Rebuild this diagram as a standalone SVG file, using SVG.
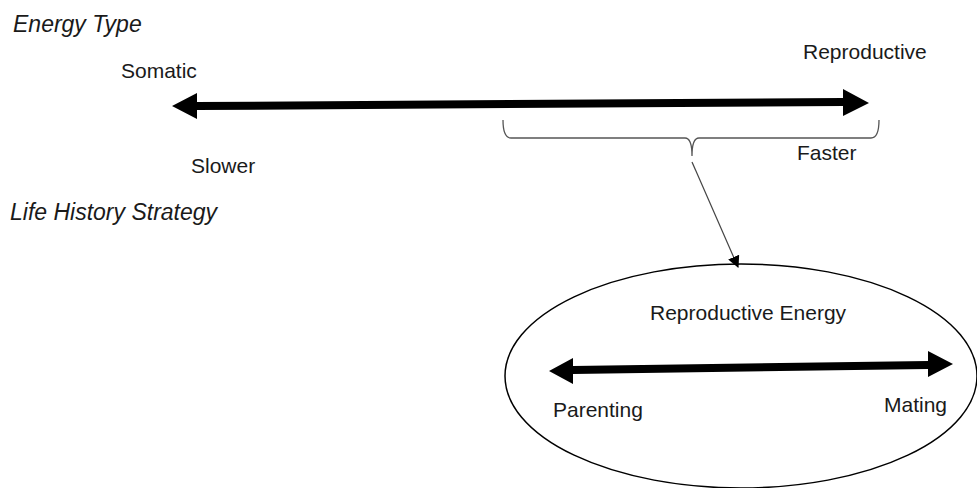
<svg xmlns="http://www.w3.org/2000/svg" width="977" height="488" viewBox="0 0 977 488">
<style>
text{font-family:"Liberation Sans",Arial,sans-serif;font-size:21px;fill:#1a1a1a}
.it{font-style:italic;font-size:23px}
.big{fill:#000;stroke:none}
.brace{fill:none;stroke:#555;stroke-width:1.3}
.conn{fill:none;stroke:#444;stroke-width:1.2}
</style>
<defs>
<marker id="ah" viewBox="0 0 10 10" refX="9" refY="5" markerWidth="12" markerHeight="12" markerUnits="userSpaceOnUse" orient="auto">
<path d="M0,0 L10,5 L0,10 z" fill="#000"/>
</marker>
</defs>
<rect width="977" height="488" fill="#fff"/>
<g id="labels">
<text class="it" x="13" y="32">Energy Type</text>
<text class="it" x="10" y="220">Life History Strategy</text>
</g>
<g id="energy-axis">
<polygon class="big" points="172,106 197,93 197,102 843,98 843,89 869,103 843,116 843,106 197,110 197,119"/>
<text x="121" y="78">Somatic</text>
<text x="803" y="59">Reproductive</text>
<text x="191" y="173">Slower</text>
<text x="797" y="160">Faster</text>
</g>
<g id="brace">
<path class="brace" d="M503,120 Q503,138 511,138 L685,138 Q692,138 692,156 Q692,138 699,138 L871,138 Q879,138 879,120"/>
</g>
<g id="reproductive-energy">
<ellipse cx="741" cy="376" rx="236" ry="112" fill="none" stroke="#000" stroke-width="1.5"/>
<text x="650" y="320">Reproductive Energy</text>
<polygon class="big" points="549,371 573,358 573,366 928,361 928,351 953,364 928,377 928,369 573,374 573,384"/>
<text x="553" y="417">Parenting</text>
<text x="884" y="412">Mating</text>
</g>
<g id="connectors">
<line class="conn" x1="692" y1="162" x2="738" y2="267" marker-end="url(#ah)"/>
</g>
</svg>
